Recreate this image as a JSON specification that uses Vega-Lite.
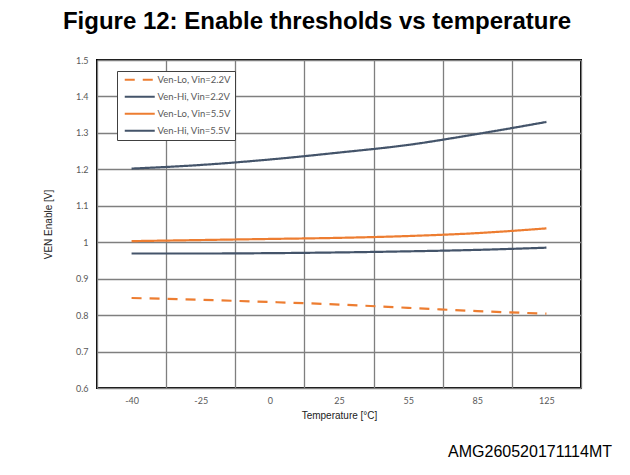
{
  "$schema": "https://vega.github.io/schema/vega-lite/v6.json",
  "autosize": {"type": "pad"},
  "padding": {"left": 42, "top": 10, "right": 0, "bottom": 0},
  "background": "white",
  "title": {
    "text": "Figure 12: Enable thresholds vs temperature",
    "font": "Liberation Sans",
    "fontSize": 24,
    "fontWeight": "bold",
    "color": "black",
    "anchor": "middle",
    "frame": "group",
    "baseline": "alphabetic",
    "offset": 2,
    "dx": -22
  },
  "datasets": {
    "series": [
      {"temp": -40, "series": "Ven-Lo, Vin=2.2V", "ven": 0.847},
      {"temp": -25, "series": "Ven-Lo, Vin=2.2V", "ven": 0.842},
      {"temp": 0, "series": "Ven-Lo, Vin=2.2V", "ven": 0.836},
      {"temp": 25, "series": "Ven-Lo, Vin=2.2V", "ven": 0.829},
      {"temp": 55, "series": "Ven-Lo, Vin=2.2V", "ven": 0.820},
      {"temp": 85, "series": "Ven-Lo, Vin=2.2V", "ven": 0.811},
      {"temp": 125, "series": "Ven-Lo, Vin=2.2V", "ven": 0.804},
      {"temp": -40, "series": "Ven-Hi, Vin=2.2V", "ven": 0.969},
      {"temp": -25, "series": "Ven-Hi, Vin=2.2V", "ven": 0.969},
      {"temp": 0, "series": "Ven-Hi, Vin=2.2V", "ven": 0.970},
      {"temp": 25, "series": "Ven-Hi, Vin=2.2V", "ven": 0.972},
      {"temp": 55, "series": "Ven-Hi, Vin=2.2V", "ven": 0.975},
      {"temp": 85, "series": "Ven-Hi, Vin=2.2V", "ven": 0.979},
      {"temp": 125, "series": "Ven-Hi, Vin=2.2V", "ven": 0.985},
      {"temp": -40, "series": "Ven-Lo, Vin=5.5V", "ven": 1.003},
      {"temp": -25, "series": "Ven-Lo, Vin=5.5V", "ven": 1.006},
      {"temp": 0, "series": "Ven-Lo, Vin=5.5V", "ven": 1.009},
      {"temp": 25, "series": "Ven-Lo, Vin=5.5V", "ven": 1.012},
      {"temp": 55, "series": "Ven-Lo, Vin=5.5V", "ven": 1.017},
      {"temp": 85, "series": "Ven-Lo, Vin=5.5V", "ven": 1.025},
      {"temp": 125, "series": "Ven-Lo, Vin=5.5V", "ven": 1.038},
      {"temp": -40, "series": "Ven-Hi, Vin=5.5V", "ven": 1.202},
      {"temp": -25, "series": "Ven-Hi, Vin=5.5V", "ven": 1.212},
      {"temp": 0, "series": "Ven-Hi, Vin=5.5V", "ven": 1.227},
      {"temp": 25, "series": "Ven-Hi, Vin=5.5V", "ven": 1.246},
      {"temp": 55, "series": "Ven-Hi, Vin=5.5V", "ven": 1.267},
      {"temp": 85, "series": "Ven-Hi, Vin=5.5V", "ven": 1.297},
      {"temp": 125, "series": "Ven-Hi, Vin=5.5V", "ven": 1.330}
    ]
  },
  "config": {
    "view": {"stroke": "black", "strokeWidth": 2},
    "axis": {
      "domain": false,
      "ticks": false,
      "gridColor": "#7f7f7f",
      "gridWidth": 1.3,
      "gridOpacity": 1,
      "labelFont": "Lato",
      "labelFontSize": 9,
      "labelColor": "#595959",
      "titleFont": "Liberation Sans",
      "titleFontSize": 10,
      "titleFontWeight": "normal",
      "titleColor": "#222222"
    }
  },
  "vconcat": [
    {
      "width": 484,
      "height": 328,
      "title": {
        "text": "AMG260520171114MT",
        "orient": "bottom",
        "anchor": "end",
        "frame": "group",
        "font": "Liberation Sans",
        "fontSize": 16,
        "fontWeight": "normal",
        "color": "black",
        "baseline": "alphabetic",
        "offset": 37,
        "dx": 31
      },
      "data": {"name": "series"},
      "mark": {"type": "line", "interpolate": "monotone", "strokeWidth": 2.2},
      "encoding": {
        "x": {
          "field": "temp",
          "type": "ordinal",
          "bandPosition": 0.5,
          "scale": {"type": "band", "paddingInner": 0, "paddingOuter": 0},
          "axis": {
            "title": "Temperature [°C]",
            "labelAngle": 0,
            "tickBand": "extent",
            "labelPadding": 8,
            "titlePadding": 5,
            "grid": true
          }
        },
        "y": {
          "field": "ven",
          "type": "quantitative",
          "scale": {"domain": [0.6, 1.5], "nice": false, "zero": false},
          "axis": {
            "title": "VEN Enable  [V]",
            "values": [0.6, 0.7, 0.8, 0.9, 1.0, 1.1, 1.2, 1.3, 1.4, 1.5],
            "format": "~g",
            "labelPadding": 9,
            "titlePadding": 22,
            "grid": true
          }
        },
        "color": {
          "field": "series",
          "type": "nominal",
          "scale": {
            "domain": ["Ven-Lo, Vin=2.2V", "Ven-Hi, Vin=2.2V", "Ven-Lo, Vin=5.5V", "Ven-Hi, Vin=5.5V"],
            "range": ["#ED7D31", "#44546A", "#ED7D31", "#44546A"]
          },
          "legend": {
            "title": null,
            "orient": "none",
            "legendX": 20,
            "legendY": 11,
            "fillColor": "white",
            "strokeColor": "#404040",
            "padding": 4,
            "rowPadding": 6,
            "symbolType": "M-5,0H5",
            "symbolSize": 36,
            "symbolStrokeWidth": 2.2,
            "symbolOffset": 14,
            "labelOffset": 13,
            "labelFont": "Lato",
            "labelFontSize": 9.5,
            "labelColor": "#595959"
          }
        },
        "strokeDash": {
          "field": "series",
          "type": "nominal",
          "scale": {
            "domain": ["Ven-Lo, Vin=2.2V", "Ven-Hi, Vin=2.2V", "Ven-Lo, Vin=5.5V", "Ven-Hi, Vin=5.5V"],
            "range": [[10, 8], [1, 0], [1, 0], [1, 0]]
          },
          "legend": {
            "title": null,
            "orient": "none",
            "legendX": 20,
            "legendY": 11,
            "fillColor": "white",
            "strokeColor": "#404040",
            "padding": 4,
            "rowPadding": 6,
            "symbolType": "M-5,0H5",
            "symbolSize": 36,
            "symbolStrokeWidth": 2.2,
            "symbolOffset": 14,
            "labelOffset": 13,
            "labelFont": "Lato",
            "labelFontSize": 9.5,
            "labelColor": "#595959"
          }
        }
      }
    }
  ]
}
